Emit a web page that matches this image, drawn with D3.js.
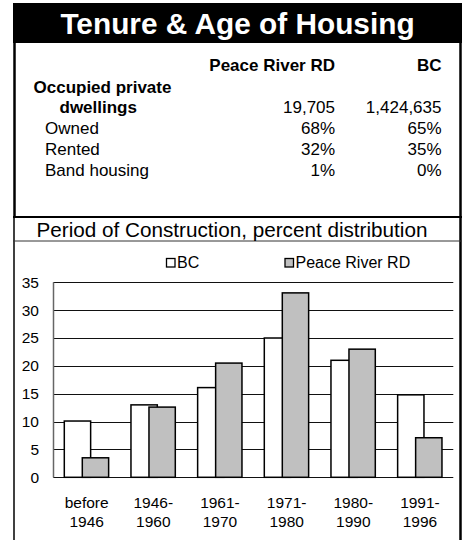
<!DOCTYPE html>
<html>
<head>
<meta charset="utf-8">
<script src="https://cdn.jsdelivr.net/npm/d3@7"></script>
<style>
  html, body { margin: 0; padding: 0; background: #fff; }
  svg { display: block; font-family: "Liberation Sans", Arial, sans-serif; }
</style>
</head>
<body>
<svg id="chart" width="462" height="540"></svg>
<script>
// ---- Data ----
const title = "Tenure & Age of Housing";
const tableColumns = ["Peace River RD", "BC"];
const tableRows = ["Occupied private|dwellings", "Owned", "Rented", "Band housing"];
const peaceRiverTable = ["19,705", "68%", "32%", "1%"];
const bcTable = ["1,424,635", "65%", "35%", "0%"];

const subtitle = "Period of Construction, percent distribution";
const categories = ["before|1946", "1946-|1960", "1961-|1970", "1971-|1980", "1980-|1990", "1991-|1996"];
const bcValues = [10.1, 13.0, 16.1, 25.0, 21.0, 14.8];
const peaceRiverValues = [3.5, 12.6, 20.5, 33.1, 23.0, 7.1];
const yTicks = [0, 5, 10, 15, 20, 25, 30, 35];
const seriesNames = ["BC", "Peace River RD"];
const seriesColors = ["#ffffff", "#c0c0c0"];

// ---- Drawing ----
const svg = d3.select("#chart");

// Title bar
svg.append("rect").attr("x", 13).attr("y", 3).attr("width", 449).attr("height", 40).attr("fill", "#000");
svg.append("text").attr("x", 237.5).attr("y", 34).attr("text-anchor", "middle")
  .attr("fill", "#fff").attr("font-weight", "bold").attr("font-size", 29.8).text(title);

// Frame lines
svg.append("line").attr("x1", 14.5).attr("x2", 14.5).attr("y1", 43).attr("y2", 218)
  .attr("stroke", "#000").attr("stroke-width", 2.5);
svg.append("line").attr("x1", 14).attr("x2", 14).attr("y1", 218).attr("y2", 540)
  .attr("stroke", "#000").attr("stroke-width", 1.5);
svg.append("line").attr("x1", 460.5).attr("x2", 460.5).attr("y1", 3).attr("y2", 540)
  .attr("stroke", "#000").attr("stroke-width", 2.5);
svg.append("line").attr("x1", 13).attr("x2", 462).attr("y1", 217).attr("y2", 217)
  .attr("stroke", "#000").attr("stroke-width", 2);
svg.append("line").attr("x1", 13).attr("x2", 462).attr("y1", 241).attr("y2", 241)
  .attr("stroke", "#333").attr("stroke-width", 1);

// Table
const colRight = [335, 441.5];
const tbl = svg.append("g").attr("font-size", 17).attr("fill", "#000");
tableColumns.forEach((c, i) => {
  tbl.append("text").attr("x", colRight[i]).attr("y", 70.5).attr("text-anchor", "end")
    .attr("font-weight", "bold").text(c);
});
const rowY = [113.3, 134, 154.5, 175.5];
tableRows.forEach((r, i) => {
  if (i === 0) {
    const parts = r.split("|");
    tbl.append("text").attr("x", 33.5).attr("y", 93.3).attr("font-weight", "bold").text(parts[0]);
    tbl.append("text").attr("x", 59.5).attr("y", rowY[0]).attr("font-weight", "bold").text(parts[1]);
  } else {
    tbl.append("text").attr("x", 45).attr("y", rowY[i]).text(r);
  }
  tbl.append("text").attr("x", colRight[0]).attr("y", rowY[i]).attr("text-anchor", "end").text(peaceRiverTable[i]);
  tbl.append("text").attr("x", colRight[1]).attr("y", rowY[i]).attr("text-anchor", "end").text(bcTable[i]);
});

// Subtitle
svg.append("text").attr("x", 232).attr("y", 236.5).attr("text-anchor", "middle")
  .attr("font-size", 20.7).attr("fill", "#000").text(subtitle);

// Chart
const x = d3.scaleBand().domain(categories).range([53.3, 453.3]).paddingInner(0).paddingOuter(0);
const y = d3.scaleLinear().domain([0, 35]).range([477.3, 282.3]);
const bw = x.bandwidth();
const barW = bw * 0.395;
const offsets = [bw * 0.165, bw * 0.435];

// gridlines
svg.append("g").selectAll("line").data(yTicks).join("line")
  .attr("x1", 53.3).attr("x2", 453.3)
  .attr("y1", d => Math.round(y(d)) + 0.5).attr("y2", d => Math.round(y(d)) + 0.5)
  .attr("stroke", "#111").attr("stroke-width", 1);
svg.append("line").attr("x1", 53.5).attr("x2", 53.5).attr("y1", y(35)).attr("y2", y(0))
  .attr("stroke", "#666").attr("stroke-width", 1.5);

// y tick labels
const yAxis = d3.axisLeft(y).tickValues(yTicks).tickSize(0).tickPadding(0);
const yg = svg.append("g").attr("transform", "translate(39,0)").call(yAxis);
yg.select(".domain").remove();
yg.selectAll("text").attr("font-size", 15.5).attr("font-family", "Liberation Sans, Arial, sans-serif")
  .attr("fill", "#000");

// bars
const series = [bcValues, peaceRiverValues];
series.forEach((vals, s) => {
  svg.append("g").selectAll("rect").data(vals).join("rect")
    .attr("x", (d, i) => x(categories[i]) + offsets[s])
    .attr("y", d => y(d))
    .attr("width", barW)
    .attr("height", d => y(0) - y(d))
    .attr("fill", seriesColors[s])
    .attr("stroke", "#000").attr("stroke-width", 1.5);
});

// x labels
const xl = svg.append("g").attr("font-size", 15.5).attr("fill", "#000").attr("text-anchor", "middle");
categories.forEach(c => {
  const parts = c.split("|");
  const cx = x(c) + bw / 2;
  xl.append("text").attr("x", cx).attr("y", 508).text(parts[0]);
  xl.append("text").attr("x", cx).attr("y", 527).text(parts[1]);
});

// legend
const legX = [166.5, 285];
seriesNames.forEach((n, i) => {
  svg.append("rect").attr("x", legX[i]).attr("y", 258.5).attr("width", 8.5).attr("height", 8.5)
    .attr("fill", seriesColors[i]).attr("stroke", "#000").attr("stroke-width", 1.3);
  svg.append("text").attr("x", legX[i] + 10.5).attr("y", 267.5).attr("font-size", 16)
    .attr("fill", "#000").text(n);
});
</script>
</body>
</html>
